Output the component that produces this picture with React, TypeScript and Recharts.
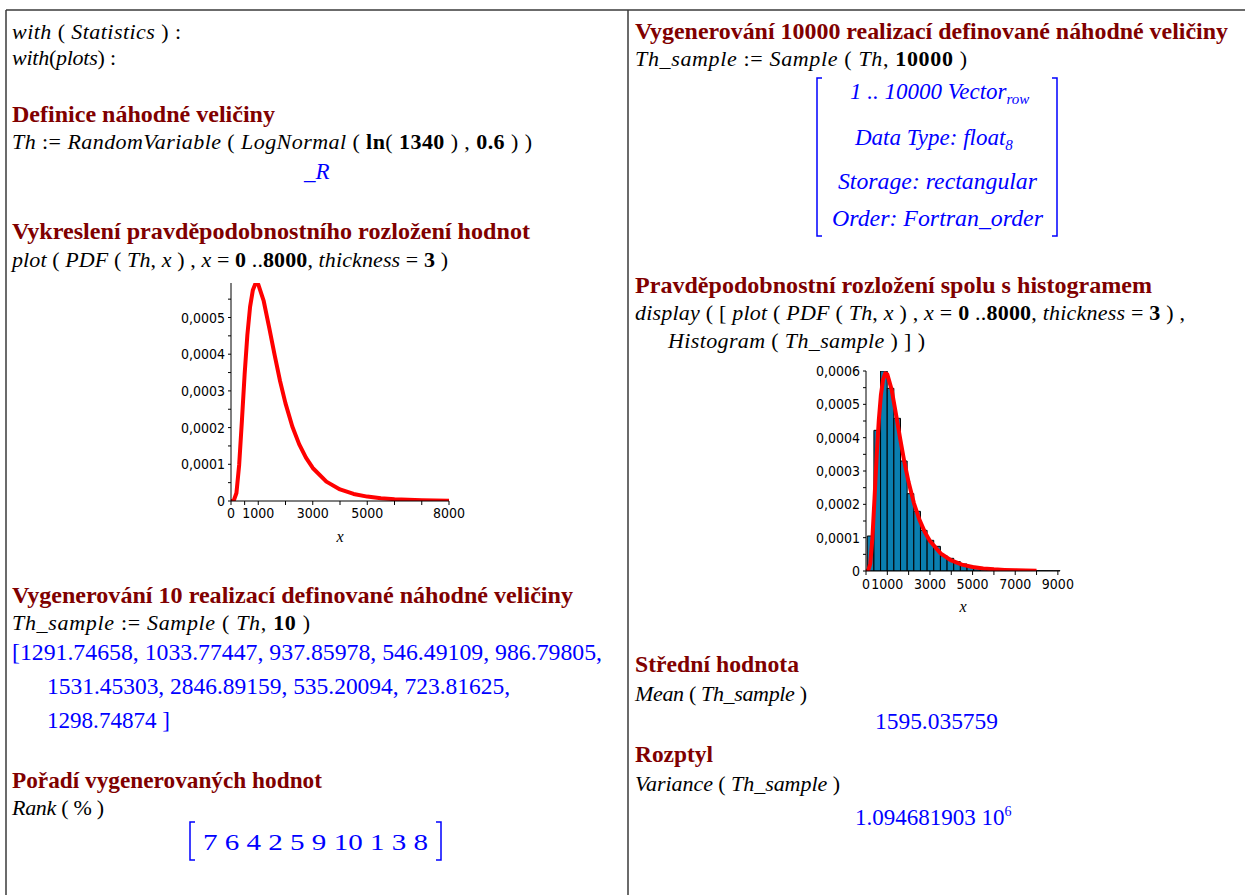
import React from 'react';
import { LineChart, BarChart, Line, Bar, XAxis, YAxis, Label } from 'recharts';

// ---------- data ----------
// PDF curve of LogNormal(ln(1340), 0.6) as drawn (x, density)
const pdfX = [0, 100, 200, 300, 400, 500, 600, 700, 800, 900, 1000, 1200, 1400, 1600, 1800, 2000, 2250, 2500, 2750, 3000, 3500, 4000, 4500, 5000, 5500, 6000, 6500, 7000, 7500, 8000];
const pdfY = [0, 0.0000006, 0.0000218, 0.0000988, 0.000218, 0.000345, 0.000452, 0.000529, 0.000574, 0.000593, 0.00059, 0.000545, 0.000473, 0.000398, 0.000327, 0.000266, 0.000203, 0.000155, 0.000118, 0.00009, 0.0000528, 0.0000316, 0.0000192, 0.000012, 0.0000076, 0.0000049, 0.0000032, 0.0000021, 0.0000014, 0.000001];

// Histogram of the 10000-sample (bin centres, densities)
const histCenters = [216, 528, 840, 1152, 1464, 1776, 2088, 2400, 2712, 3024, 3336, 3648, 3960, 4272, 4584, 4896, 5208, 5520, 5832, 6144, 6456, 6768, 7080, 7392, 7704, 8016, 8328, 8640, 8952];
const histHeights = [0.000105, 0.000422, 0.0006, 0.000548, 0.000458, 0.00033, 0.000232, 0.000179, 0.000122, 0.000092, 0.000074, 0.000046, 0.000038, 0.000028, 0.000021, 0.000015, 0.000011, 0.000008, 0.000006, 0.000005, 0.0000035, 0.000003, 0.000002, 0.0000015, 0.0000012, 0.000001, 0.0000007, 0.0000005, 0.0000004];
const histBinWidth = 312;

// axis ticks / labels
const pdfXTicks = [0, 500, 1000, 2000, 3000, 4000, 5000, 6000, 7000, 8000];
const pdfXLabels = ['0', '', '1000', '', '3000', '', '5000', '', '', '8000'];
const pdfYTicks = [0, 0.00005, 0.0001, 0.00015, 0.0002, 0.00025, 0.0003, 0.00035, 0.0004, 0.00045, 0.0005, 0.00055];
const pdfYLabels = ['0', '', '0,0001', '', '0,0002', '', '0,0003', '', '0,0004', '', '0,0005', ''];

const histXTicks = [0, 1000, 2000, 3000, 4000, 5000, 6000, 7000, 8000, 9000];
const histXLabels = ['0', '1000', '', '3000', '', '5000', '', '7000', '', '9000'];
const histYTicks = [0, 0.00005, 0.0001, 0.00015, 0.0002, 0.00025, 0.0003, 0.00035, 0.0004, 0.00045, 0.0005, 0.00055, 0.0006];
const histYLabels = ['0', '', '0,0001', '', '0,0002', '', '0,0003', '', '0,0004', '', '0,0005', '', '0,0006'];

const tenSample = ['1291.74658', '1033.77447', '937.85978', '546.49109', '986.79805', '1531.45303', '2846.89159', '535.20094', '723.81625', '1298.74874'];
const ranks = ['7', '6', '4', '2', '5', '9', '10', '1', '3', '8'];
const meanValue = '1595.035759';
const varianceMantissa = '1.094681903';

// ---------- styling ----------
const SERIF = "'Liberation Serif', 'Times New Roman', serif";
const SANS = "'DejaVu Sans Condensed', 'DejaVu Sans', Verdana, sans-serif";
const HEAD = '#800000';
const BLUE = '#0000ff';
const tickStyle: React.CSSProperties = { fontFamily: SANS, fontSize: 14, fill: '#000' };

const pdfRows = pdfX.map((x, i) => ({ x, pdf: pdfY[i] }));
const histRows = histCenters.map((x, i) => ({ x, hist: histHeights[i] }));

const makeTick = (ticks: number[], labels: string[], axis: 'x' | 'y') => (props: any) => {
  const { x, y, payload } = props;
  const i = ticks.indexOf(payload.value);
  const label = i >= 0 ? labels[i] : '';
  if (!label) return <g />;
  return axis === 'x' ? (
    <text x={x} y={y} dy="0.71em" textAnchor="middle" style={tickStyle}>{label}</text>
  ) : (
    <text x={x} y={y} dy="0.36em" textAnchor="end" style={tickStyle}>{label}</text>
  );
};

const xLabelStyle = { fontFamily: SERIF, fontStyle: 'italic', fontSize: 16, fill: '#000' } as any;

// ---------- worksheet text ----------
type Span = { t: string; st?: 'i' | 'b' | 'r' | 'sub' | 'sup' };
type TextLine = { x: number; y: number; w?: number; kind: 'head' | 'in' | 'out' | 'outi'; spans: Span[] };

const lines: TextLine[] = [
  { x: 12, y: 39, w: 169, kind: 'in', spans: [{ t: 'with', st: 'i' }, { t: ' ( ' }, { t: 'Statistics', st: 'i' }, { t: ' ) :' }] },
  { x: 12, y: 65, w: 104, kind: 'in', spans: [{ t: 'with', st: 'i' }, { t: '(' }, { t: 'plots', st: 'i' }, { t: ') :' }] },
  { x: 12, y: 122, w: 263, kind: 'head', spans: [{ t: 'Definice náhodné veličiny' }] },
  { x: 12, y: 149, w: 520, kind: 'in', spans: [{ t: 'Th', st: 'i' }, { t: ' := ' }, { t: 'RandomVariable', st: 'i' }, { t: ' ( ' }, { t: 'LogNormal', st: 'i' }, { t: ' ( ' }, { t: 'ln', st: 'b' }, { t: '( ' }, { t: '1340', st: 'b' }, { t: ' ) , ' }, { t: '0.6', st: 'b' }, { t: ' ) )' }] },
  { x: 304, y: 179, kind: 'out', spans: [{ t: '_' }, { t: 'R', st: 'i' }] },
  { x: 12, y: 239, w: 518, kind: 'head', spans: [{ t: 'Vykreslení pravděpodobnostního rozložení hodnot' }] },
  { x: 12, y: 267, w: 436, kind: 'in', spans: [{ t: 'plot', st: 'i' }, { t: ' ( ' }, { t: 'PDF', st: 'i' }, { t: ' ( ' }, { t: 'Th', st: 'i' }, { t: ', ' }, { t: 'x', st: 'i' }, { t: ' ) , ' }, { t: 'x', st: 'i' }, { t: ' = ' }, { t: '0', st: 'b' }, { t: ' ..' }, { t: '8000', st: 'b' }, { t: ', ' }, { t: 'thickness', st: 'i' }, { t: ' = ' }, { t: '3', st: 'b' }, { t: ' )' }] },
  { x: 12, y: 603, w: 561, kind: 'head', spans: [{ t: 'Vygenerování 10 realizací definované náhodné veličiny' }] },
  { x: 12, y: 630, w: 298, kind: 'in', spans: [{ t: 'Th_sample', st: 'i' }, { t: ' := ' }, { t: 'Sample', st: 'i' }, { t: ' ( ' }, { t: 'Th', st: 'i' }, { t: ', ' }, { t: '10', st: 'b' }, { t: ' )' }] },
  { x: 12, y: 660, w: 590, kind: 'out', spans: [{ t: '[' + tenSample.slice(0, 5).join(', ') + ',' }] },
  { x: 47, y: 694, w: 463, kind: 'out', spans: [{ t: tenSample.slice(5, 9).join(', ') + ',' }] },
  { x: 47, y: 728, w: 123, kind: 'out', spans: [{ t: tenSample[9] + ' ]' }] },
  { x: 12, y: 788, w: 310, kind: 'head', spans: [{ t: 'Pořadí vygenerovaných hodnot' }] },
  { x: 12, y: 815, w: 92, kind: 'in', spans: [{ t: 'Rank', st: 'i' }, { t: ' ( % )' }] },
  { x: 203, y: 850, w: 225, kind: 'out', spans: [{ t: ranks.join(' ') }] },

  { x: 635, y: 39, w: 593, kind: 'head', spans: [{ t: 'Vygenerování 10000 realizací definované náhodné veličiny' }] },
  { x: 635, y: 66, w: 332, kind: 'in', spans: [{ t: 'Th_sample', st: 'i' }, { t: ' := ' }, { t: 'Sample', st: 'i' }, { t: ' ( ' }, { t: 'Th', st: 'i' }, { t: ', ' }, { t: '10000', st: 'b' }, { t: ' )' }] },
  { x: 850, y: 99, kind: 'outi', spans: [{ t: '1 .. 10000 Vector' }, { t: 'row', st: 'sub' }] },
  { x: 855, y: 145, kind: 'outi', spans: [{ t: 'Data Type: float' }, { t: '8', st: 'sub' }] },
  { x: 838, y: 189, w: 199, kind: 'outi', spans: [{ t: 'Storage: rectangular' }] },
  { x: 832, y: 226, w: 211, kind: 'outi', spans: [{ t: 'Order: Fortran_order' }] },
  { x: 635, y: 293, w: 517, kind: 'head', spans: [{ t: 'Pravděpodobnostní rozložení spolu s histogramem' }] },
  { x: 635, y: 320, w: 550, kind: 'in', spans: [{ t: 'display', st: 'i' }, { t: ' ( [ ' }, { t: 'plot', st: 'i' }, { t: ' ( ' }, { t: 'PDF', st: 'i' }, { t: ' ( ' }, { t: 'Th', st: 'i' }, { t: ', ' }, { t: 'x', st: 'i' }, { t: ' ) , ' }, { t: 'x', st: 'i' }, { t: ' = ' }, { t: '0', st: 'b' }, { t: ' ..' }, { t: '8000', st: 'b' }, { t: ', ' }, { t: 'thickness', st: 'i' }, { t: ' = ' }, { t: '3', st: 'b' }, { t: ' ) ,' }] },
  { x: 668, y: 348, w: 257, kind: 'in', spans: [{ t: 'Histogram', st: 'i' }, { t: ' ( ' }, { t: 'Th_sample', st: 'i' }, { t: ' ) ] )' }] },
  { x: 635, y: 672, w: 164, kind: 'head', spans: [{ t: 'Střední hodnota' }] },
  { x: 635, y: 701, w: 172, kind: 'in', spans: [{ t: 'Mean', st: 'i' }, { t: ' ( ' }, { t: 'Th_sample', st: 'i' }, { t: ' )' }] },
  { x: 875, y: 729, w: 123, kind: 'out', spans: [{ t: meanValue }] },
  { x: 635, y: 762, w: 78, kind: 'head', spans: [{ t: 'Rozptyl' }] },
  { x: 635, y: 791, w: 205, kind: 'in', spans: [{ t: 'Variance', st: 'i' }, { t: ' ( ' }, { t: 'Th_sample', st: 'i' }, { t: ' )' }] },
  { x: 855, y: 825, kind: 'out', spans: [{ t: varianceMantissa + ' 10' }, { t: '6', st: 'sup' }] },
];

const Worksheet = () => (
  <svg width={1245} height={895} style={{ position: 'absolute', left: 0, top: 0 }}>
    <rect x={0} y={0} width={1245} height={895} fill="#fff" />
    <line x1={6} y1={10} x2={1245} y2={10} stroke="#3a3a3a" strokeWidth={1.5} />
    <line x1={6} y1={10} x2={6} y2={895} stroke="#3a3a3a" strokeWidth={1.5} />
    <line x1={628} y1={10} x2={628} y2={895} stroke="#3a3a3a" strokeWidth={1.5} />
    {/* matrix brackets */}
    <path d="M822 78 L817 78 L817 236 L822 236" fill="none" stroke={BLUE} strokeWidth={1.5} />
    <path d="M1052 78 L1057 78 L1057 236 L1052 236" fill="none" stroke={BLUE} strokeWidth={1.5} />
    {/* rank brackets */}
    <path d="M195 822 L190 822 L190 860 L195 860" fill="none" stroke={BLUE} strokeWidth={1.5} />
    <path d="M436 822 L441 822 L441 860 L436 860" fill="none" stroke={BLUE} strokeWidth={1.5} />
    {lines.map((l, i) => (
      <text
        key={i}
        x={l.x}
        y={l.y}
        textLength={l.w}
        lengthAdjust={l.w ? (l.kind === 'in' ? 'spacing' : 'spacingAndGlyphs') : undefined}
        fontFamily={SERIF}
        fontSize={l.kind === 'in' ? 22 : 23}
        fontWeight={l.kind === 'head' ? 'bold' : 'normal'}
        fontStyle={l.kind === 'outi' ? 'italic' : 'normal'}
        fill={l.kind === 'head' ? HEAD : l.kind === 'in' ? '#000' : BLUE}
        style={{ whiteSpace: 'pre' }}
      >
        {l.spans.map((s, j) => {
          if (s.st === 'sub')
            return <tspan key={j} fontSize={15} baselineShift="-5">{s.t}</tspan>;
          if (s.st === 'sup')
            return <tspan key={j} fontSize={14} baselineShift="9">{s.t}</tspan>;
          return (
            <tspan key={j} fontStyle={s.st === 'i' ? 'italic' : undefined} fontWeight={s.st === 'b' ? 'bold' : undefined}>
              {s.t}
            </tspan>
          );
        })}
      </text>
    ))}
  </svg>
);

export default function App() {
  const histPlotW = 194;
  const histDomainMax = 9100;
  const barPx = (histBinWidth * histPlotW) / histDomainMax - 0.05;
  return (
    <div style={{ position: 'absolute', left: 0, top: 0, width: 1245, height: 895, background: '#fff', overflow: 'hidden' }}>
      <Worksheet />

      {/* chart 1: PDF */}
      <div style={{ position: 'absolute', left: 160, top: 273 }}>
        <LineChart width={320} height={278} data={pdfRows} margin={{ top: 10, right: 31, bottom: 0, left: 0 }}>
          <XAxis
            dataKey="x"
            type="number"
            domain={[0, 8000]}
            ticks={pdfXTicks}
            interval={0}
            height={50}
            tickSize={4}
            tickMargin={3}
            stroke="#000"
            tick={makeTick(pdfXTicks, pdfXLabels, 'x')}
          >
            <Label value="x" position="insideBottom" offset={9} style={xLabelStyle} />
          </XAxis>
          <YAxis
            type="number"
            domain={[0, 0.000594]}
            allowDataOverflow
            ticks={pdfYTicks}
            interval={0}
            width={71}
            tickSize={3}
            tickMargin={3}
            stroke="#000"
            tick={makeTick(pdfYTicks, pdfYLabels, 'y')}
          />
          <Line dataKey="pdf" type="linear" stroke="#ff0000" strokeWidth={4} strokeLinejoin="round" dot={false} isAnimationActive={false} />
        </LineChart>
      </div>

      {/* chart 2: histogram + PDF */}
      <div style={{ position: 'absolute', left: 790, top: 361, width: 300, height: 260 }}>
        <div style={{ position: 'absolute', left: 0, top: 0 }}>
          <BarChart width={300} height={260} data={histRows} margin={{ top: 10, right: 30, bottom: 50, left: 76 }}>
            <XAxis dataKey="x" type="number" domain={[0, histDomainMax]} hide />
            <YAxis type="number" domain={[0, 0.0006]} allowDataOverflow hide />
            <Bar dataKey="hist" fill="#0a7fb0" stroke="#000" strokeWidth={1} barSize={barPx} isAnimationActive={false} />
          </BarChart>
        </div>
        <div style={{ position: 'absolute', left: 0, top: 0 }}>
          <LineChart width={300} height={260} data={pdfRows} margin={{ top: 10, right: 30, bottom: 0, left: 0 }}>
            <XAxis
              dataKey="x"
              type="number"
              domain={[0, histDomainMax]}
              ticks={histXTicks}
              interval={0}
              height={50}
              tickSize={4}
              tickMargin={4}
              stroke="#000"
              tick={makeTick(histXTicks, histXLabels, 'x')}
            >
              <Label value="x" position="insideBottom" offset={9} style={xLabelStyle} />
            </XAxis>
            <YAxis
              type="number"
              domain={[0, 0.0006]}
              allowDataOverflow
              ticks={histYTicks}
              interval={0}
              width={76}
              tickSize={3}
              tickMargin={3}
              stroke="#000"
              tick={makeTick(histYTicks, histYLabels, 'y')}
            />
            <Line dataKey="pdf" type="linear" stroke="#ff0000" strokeWidth={4} strokeLinejoin="round" dot={false} isAnimationActive={false} />
          </LineChart>
        </div>
      </div>
    </div>
  );
}
